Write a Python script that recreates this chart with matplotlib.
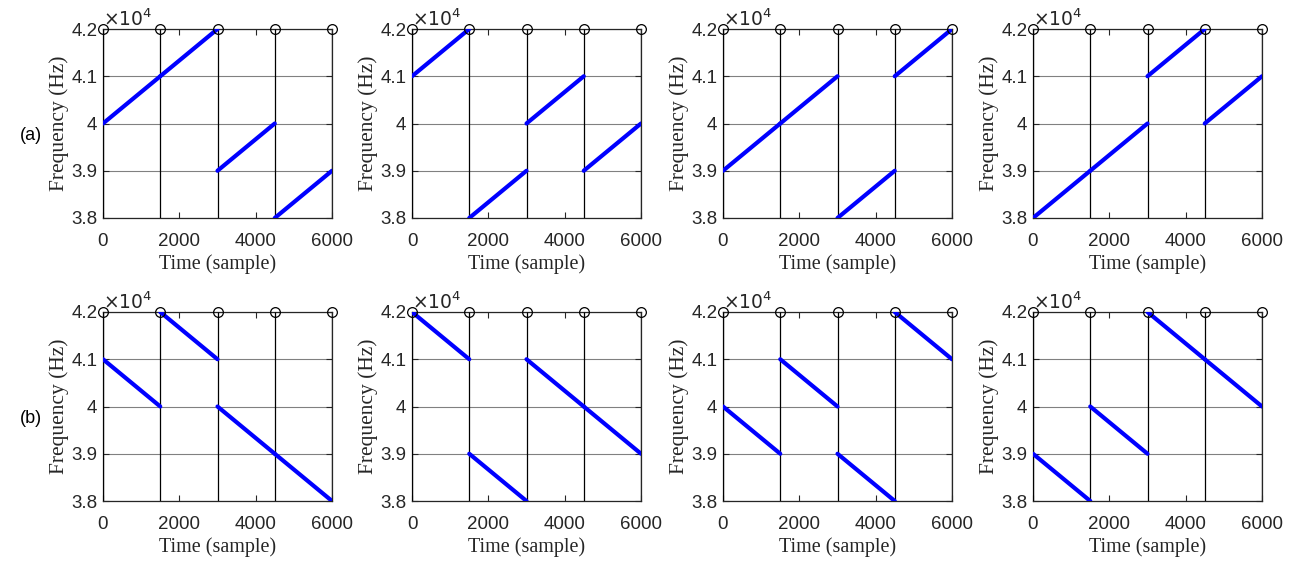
#!/usr/bin/env python3

import numpy as np
import matplotlib.pyplot as plt
from matplotlib.ticker import FuncFormatter

# block boundaries (samples) and start frequency of each 1500-sample block (Hz)
block_edges = [0, 1500, 3000, 4500, 6000]
step_hz = 1000

# row (a): up-chirps, row (b): down-chirps; one list per panel
up_starts = [
    [40000, 41000, 39000, 38000],
    [41000, 38000, 40000, 39000],
    [39000, 40000, 38000, 41000],
    [38000, 39000, 41000, 40000],
]
down_starts = [
    [41000, 42000, 40000, 39000],
    [42000, 39000, 41000, 40000],
    [40000, 41000, 39000, 42000],
    [39000, 40000, 42000, 41000],
]
row_labels = ['(a)', '(b)']

xticks = [0, 2000, 4000, 6000]
yticks = [38000, 39000, 40000, 41000, 42000]

W, H = 1301, 572
fig = plt.figure(figsize=(W / 100, H / 100), dpi=100)

lefts = [103, 412, 723, 1033]
width = 229
rows = [(29, 218), (312, 501)]
dark = '#262626'

def draw_panel(ax, starts, sign):
    for k, s in enumerate(starts):
        x = [block_edges[k], block_edges[k + 1]]
        y = [s, s + sign * step_hz]
        ax.plot(x, y, color='#0000ff', lw=3, solid_capstyle='round', zorder=4)

    # stem markers on the block boundaries
    ax.vlines(block_edges, 0, yticks[-1], color='black', lw=0.9, zorder=3)
    ax.plot(block_edges, [yticks[-1]] * len(block_edges), 'o', mfc='none',
            mec='black', ms=7, mew=0.9, clip_on=False, zorder=5)

    ax.set_xlim(0, 6000)
    ax.set_ylim(38000, 42000)
    ax.set_xticks(xticks)
    ax.set_yticks(yticks)
    ax.yaxis.set_major_formatter(FuncFormatter(lambda v, p: f'{v / 1e4:g}'))
    ax.grid(axis='y', color='#808080', lw=0.8)
    ax.set_axisbelow(True)
    ax.tick_params(direction='in', length=4, width=0.8, colors=dark,
                   labelsize=13.5, top=True, right=True)
    ax.tick_params(axis='x', pad=11)
    ax.tick_params(axis='y', pad=4)
    for sp in ax.spines.values():
        sp.set_color(dark)
        sp.set_linewidth(0.9)
    for lab in ax.get_xticklabels() + ax.get_yticklabels():
        lab.set_family('Liberation Sans')
    ax.set_xlabel('Time (sample)', family='Liberation Serif', fontsize=14.5,
                  color=dark, labelpad=3)
    ax.set_ylabel('Frequency (Hz)', family='Liberation Serif', fontsize=15.5,
                  color=dark, labelpad=1.5)
    ax.text(0.0, 0.995, r'$\times10^{4}$', transform=ax.transAxes,
            ha='left', va='bottom', fontsize=13.5, color=dark)

for r, (top, bottom) in enumerate(rows):
    data = up_starts if r == 0 else down_starts
    sign = 1 if r == 0 else -1
    for c in range(4):
        ax = fig.add_axes([lefts[c] / W, 1 - bottom / H, width / W, (bottom - top) / H])
        draw_panel(ax, data[c], sign)
    fig.text(20 / W, 1 - ((top + bottom) / 2 + 12) / H, row_labels[r],
             ha='left', va='center', fontsize=13, family='Liberation Sans',
             color='black')

fig.savefig('out.png', dpi=100)
